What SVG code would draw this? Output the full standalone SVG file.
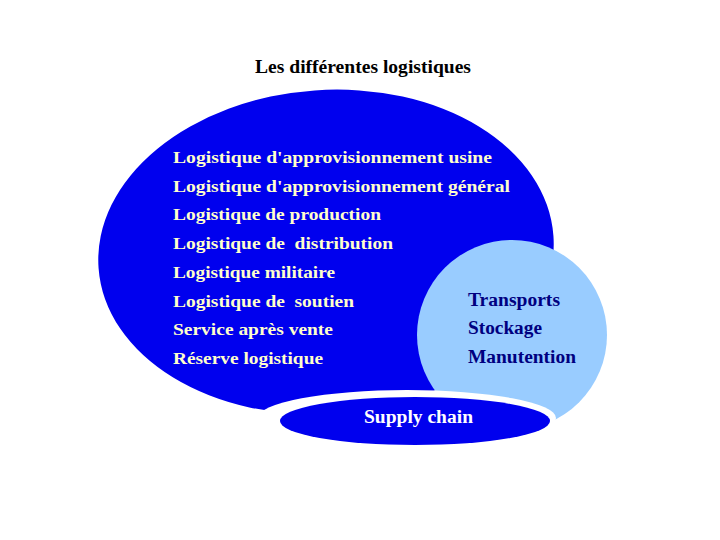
<svg xmlns="http://www.w3.org/2000/svg" width="720" height="540" viewBox="0 0 720 540">
  <style>
    text { font-family: "Liberation Serif", "Times New Roman", serif; font-weight: bold; }
    .title { font-size: 18px; fill: #000000; }
    .item { font-size: 17px; fill: #ffffcc; }
    .sub { font-size: 18px; fill: #000080; }
    .sc { font-size: 18px; fill: #ffffff; }
    .blue { fill: #0000ee; }
    .light { fill: #99ccff; }
  </style>
  <rect width="720" height="540" fill="#ffffff"/>

  <g id="title">
    <text class="title" x="255" y="73" textLength="216" lengthAdjust="spacingAndGlyphs">Les différentes logistiques</text>
  </g>

  <g id="logistiques">
    <ellipse class="blue" cx="326" cy="252" rx="228" ry="162" transform="rotate(-4 326 252)"/>
  </g>

  <g id="operations">
    <circle class="light" cx="512" cy="335" r="95"/>
  </g>

  <g id="supply-chain">
    <ellipse cx="407" cy="418" rx="149" ry="28" fill="#ffffff"/>
    <ellipse class="blue" cx="415" cy="421" rx="135" ry="24"/>
    <text class="sc" x="364" y="423" textLength="109" lengthAdjust="spacingAndGlyphs">Supply chain</text>
  </g>

  <g id="logistiques-labels">
    <text class="item" x="173" y="163" textLength="319" lengthAdjust="spacingAndGlyphs">Logistique d'approvisionnement usine</text>
    <text class="item" x="173" y="192" textLength="337" lengthAdjust="spacingAndGlyphs">Logistique d'approvisionnement général</text>
    <text class="item" x="173" y="220" textLength="208" lengthAdjust="spacingAndGlyphs">Logistique de production</text>
    <text class="item" x="173" y="249" textLength="220" lengthAdjust="spacingAndGlyphs" xml:space="preserve">Logistique de  distribution</text>
    <text class="item" x="173" y="278" textLength="162" lengthAdjust="spacingAndGlyphs">Logistique militaire</text>
    <text class="item" x="173" y="307" textLength="181" lengthAdjust="spacingAndGlyphs" xml:space="preserve">Logistique de  soutien</text>
    <text class="item" x="173" y="335" textLength="160" lengthAdjust="spacingAndGlyphs">Service après vente</text>
    <text class="item" x="173" y="364" textLength="150" lengthAdjust="spacingAndGlyphs">Réserve logistique</text>
  </g>

  <g id="operations-labels">
    <text class="sub" x="468" y="306" textLength="92" lengthAdjust="spacingAndGlyphs">Transports</text>
    <text class="sub" x="468" y="334" textLength="74" lengthAdjust="spacingAndGlyphs">Stockage</text>
    <text class="sub" x="468" y="363" textLength="108" lengthAdjust="spacingAndGlyphs">Manutention</text>
  </g>
</svg>
